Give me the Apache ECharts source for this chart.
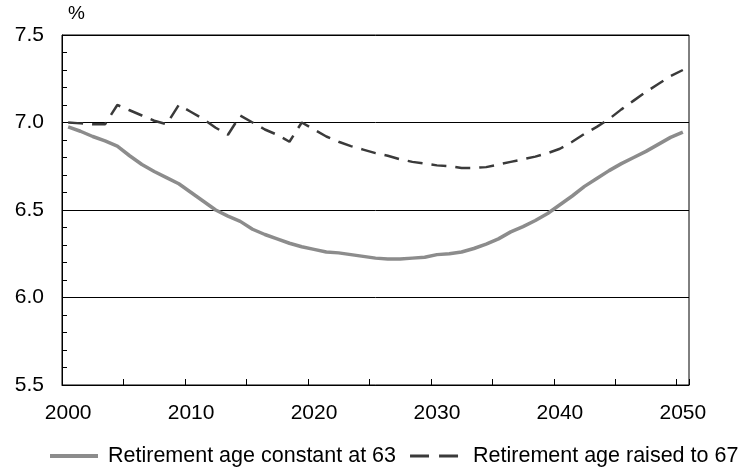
<!DOCTYPE html>
<html>
<head>
<meta charset="utf-8">
<script src="https://cdn.jsdelivr.net/npm/echarts@6/dist/echarts.min.js"></script>
<style>html,body{margin:0;padding:0;background:#fff}#c{width:746px;height:471px}</style>
</head>
<body>
<div id="c"></div>
<script>
const years = [];
for (let y = 2000; y <= 2050; y++) years.push(String(y));

const constant63 = [
  6.975, 6.95, 6.92, 6.895, 6.865, 6.81, 6.76, 6.72, 6.685, 6.65,
  6.60, 6.55, 6.50, 6.465, 6.435, 6.39, 6.36, 6.335, 6.31, 6.29,
  6.275, 6.26, 6.255, 6.245, 6.235, 6.225, 6.22, 6.22, 6.225, 6.23,
  6.245, 6.25, 6.26, 6.28, 6.305, 6.335, 6.375, 6.405, 6.44, 6.48,
  6.53, 6.58, 6.635, 6.68, 6.725, 6.765, 6.80, 6.835, 6.875, 6.915,
  6.945
];

const raised67 = [
  7.0, 6.995, 6.99, 6.99, 7.10, 7.07, 7.04, 7.01, 6.99, 7.10,
  7.06, 7.02, 6.97, 6.93, 7.04, 7.0, 6.96, 6.93, 6.89, 7.0,
  6.96, 6.92, 6.89, 6.865, 6.845, 6.825, 6.81, 6.79, 6.775, 6.765,
  6.755, 6.75, 6.74, 6.74, 6.745, 6.76, 6.775, 6.79, 6.805, 6.825,
  6.85, 6.89, 6.935, 6.975, 7.02, 7.075, 7.125, 7.175, 7.22, 7.265,
  7.30
];

const seriesNames = ['Retirement age constant at 63', 'Retirement age raised to 67'];
const yTicks = { min: 5.5, max: 7.5, interval: 0.5 };

const font = 'Liberation Sans, Arial, Helvetica, sans-serif';
const grayColor = '#8c8c8c';
const darkColor = '#3a3a3a';
const chart = echarts.init(document.getElementById('c'), null, { renderer: 'canvas' });
chart.setOption({
  animation: false,
  backgroundColor: '#fff',
  grid: { left: 62, right: 57, top: 35, bottom: 86, show: true, borderColor: '#000', borderWidth: 1, backgroundColor: 'transparent' },
  legend: {
    left: 50, top: 445, width: 696, padding: 0,
    itemWidth: 48, itemHeight: 14, itemGap: 14,
    textStyle: { fontFamily: font, fontSize: 21.5, color: '#000', padding: [0, 0, 0, 5] },
    data: [
      { name: seriesNames[0], icon: 'path://M0,0L48,0L48,4L0,4Z', itemStyle: { color: grayColor, opacity: 1 } },
      { name: seriesNames[1], icon: 'path://M0,0L17,0L17,2.5L0,2.5ZM26,0L43,0L43,2.5L26,2.5Z', itemStyle: { color: darkColor, opacity: 1 },
        textStyle: { padding: [0, 0, 0, 10] } }
    ]
  },
  xAxis: {
    type: 'category',
    data: years,
    boundaryGap: true,
    axisLine: { lineStyle: { color: '#000', width: 1 } },
    axisTick: { show: true, inside: true, length: 6, interval: 4, lineStyle: { color: '#000' } },
    axisLabel: { interval: 9, fontFamily: font, fontSize: 21, color: '#000', margin: 18 },
    splitLine: { show: false }
  },
  yAxis: {
    type: 'value',
    min: yTicks.min, max: yTicks.max, interval: yTicks.interval,
    name: '%',
    nameLocation: 'end',
    nameGap: 12,
    nameTextStyle: { fontFamily: font, fontSize: 19, color: '#000', align: 'left', padding: [0, 0, 0, 6] },
    axisLine: { show: true, lineStyle: { color: '#000', width: 1 } },
    axisTick: { show: true, inside: true, length: 5, lineStyle: { color: '#000' } },
    minorTick: { show: true, splitNumber: 5, length: 5, lineStyle: { color: '#000' } },
    axisLabel: { fontFamily: font, fontSize: 21, color: '#000', margin: 18, formatter: v => v.toFixed(1) },
    splitLine: { show: true, lineStyle: { color: '#000', width: 1 } }
  },
  series: [
    {
      name: seriesNames[0], type: 'line', data: constant63, symbol: 'none',
      lineStyle: { color: grayColor, width: 3.5 }, itemStyle: { color: grayColor }
    },
    {
      name: seriesNames[1], type: 'line', data: raised67, symbol: 'none',
      lineStyle: { color: darkColor, width: 2.5, type: [15, 9] }, itemStyle: { color: darkColor }
    }
  ]
});
</script>
</body>
</html>
